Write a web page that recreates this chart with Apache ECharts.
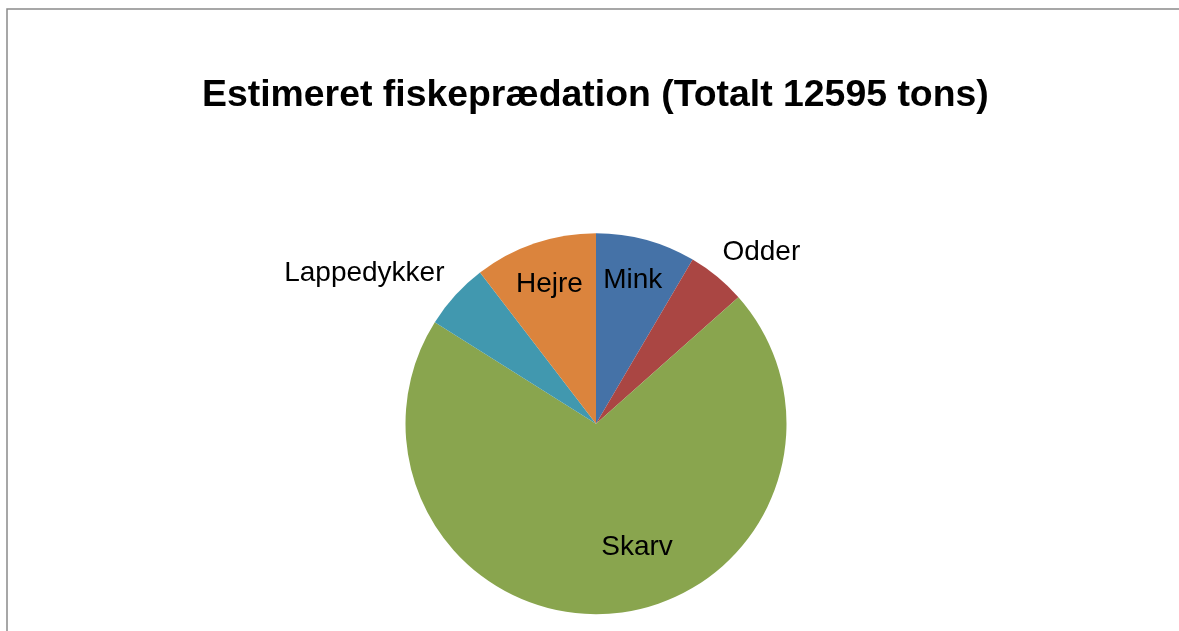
<!DOCTYPE html>
<html>
<head>
<meta charset="utf-8">
<script src="https://cdn.jsdelivr.net/npm/echarts@6/dist/echarts.min.js"></script>
<style>
  html, body { margin: 0; padding: 0; background: #ffffff; }
  #chart { width: 1179px; height: 631px; }
</style>
</head>
<body>
<div id="chart"></div>
<script>
// ---- Data (tons; total 12595) ----
const categories = ['Mink', 'Odder', 'Skarv', 'Lappedykker', 'Hejre'];
const values = [1067, 626, 8880, 710, 1312];
const titleText = 'Estimeret fiskeprædation (Totalt 12595 tons)';

// ---- Styles ----
const colors = ['#4572A7', '#AA4643', '#89A54E', '#4198AF', '#DB843D'];
const PIE_CX = 596, PIE_CY = 423.7, PIE_R = 190.5;
// label placement: [distance as fraction of radius, angle in degrees clockwise from top]
const labelPolar = [[0.785, 14.2], [1.254, 43.8], [0.675, 161.4], [1.455, -56.7], [0.779, -18.3]];

const chart = echarts.init(document.getElementById('chart'), null, { renderer: 'canvas' });

const data = categories.map((c, i) => ({
  name: c,
  value: values[i],
  itemStyle: { color: colors[i] }
}));

chart.setOption({
  backgroundColor: '#ffffff',
  animation: false,
  title: {
    text: titleText,
    left: 202,
    top: 77,
    padding: 0,
    textStyle: {
      fontFamily: 'Liberation Sans',
      fontWeight: 'bold',
      fontSize: 37.4,
      color: '#000000'
    }
  },
  graphic: [{
    type: 'rect',
    silent: true,
    shape: { x: 7, y: 9, width: 1400, height: 800 },
    style: { fill: 'none', stroke: '#8a8a8a', lineWidth: 1.5 }
  }],
  series: [{
    type: 'pie',
    center: [PIE_CX, PIE_CY],
    radius: [0, PIE_R],
    startAngle: 90,
    clockwise: true,
    avoidLabelOverlap: false,
    data: data,
    itemStyle: { borderWidth: 0 },
    label: {
      show: true,
      position: 'inside',
      formatter: '{b}',
      fontFamily: 'Liberation Sans',
      fontSize: 28,
      color: '#000000'
    },
    labelLine: { show: false },
    emphasis: { disabled: true },
    labelLayout: function (params) {
      const p = labelPolar[params.dataIndex];
      const a = p[1] * Math.PI / 180;
      return {
        x: PIE_CX + Math.sin(a) * p[0] * PIE_R,
        y: PIE_CY - Math.cos(a) * p[0] * PIE_R + 1.5,
        align: 'center',
        verticalAlign: 'middle'
      };
    }
  }]
});
</script>
</body>
</html>
